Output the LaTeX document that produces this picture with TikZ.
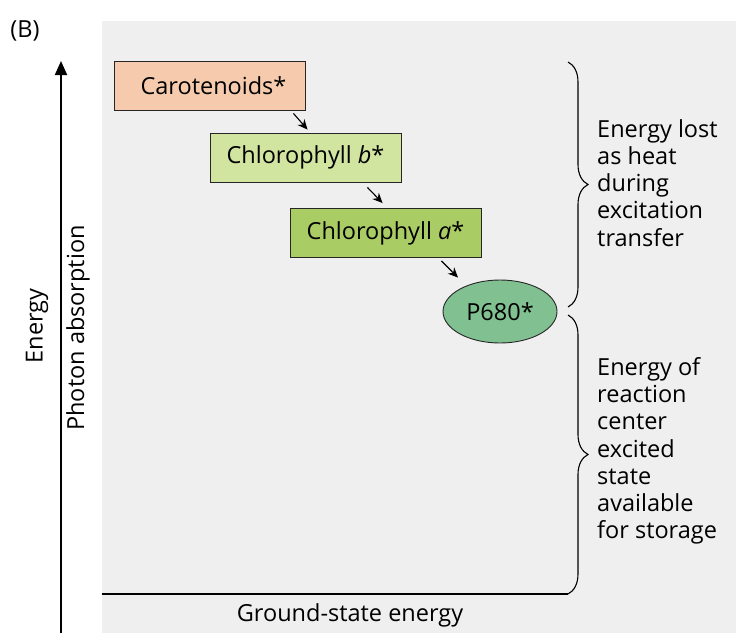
\documentclass[tikz,border=0pt]{standalone}
\usepackage{fontspec}
\setmainfont{Open Sans}
\usetikzlibrary{arrows.meta,decorations.pathreplacing,shapes.geometric}
\definecolor{bgc}{RGB}{239,239,239}
\definecolor{peach}{RGB}{245,202,173}
\definecolor{chlbc}{RGB}{209,228,160}
\definecolor{chlac}{RGB}{170,204,100}
\definecolor{pc}{RGB}{129,192,145}
\tikzset{
  pigbox/.style={draw=black!85, line width=0.9pt, minimum width=191pt, minimum height=49pt, inner sep=0pt},
  transfer/.style={line width=1.1pt, -{Stealth[length=10pt,width=9pt]}},
  bracedeco/.style={line width=1.1pt, decorate, decoration={brace, amplitude=20pt, aspect=0.5}},
  sidetext/.style={anchor=north west, inner sep=0pt, align=left},
  lbl/.style={inner sep=0pt}
}
\begin{document}
\begin{tikzpicture}[x=1pt,y=-1pt,font=\fontsize{23.5}{27.3}\selectfont]
\useasboundingbox (0,0) rectangle (746,642);
\fill[bgc] (101.5,21) rectangle (736,633);
\node[lbl] (B) at (25,31) {(B)};
% axis
\coordinate (axbot) at (61,633);
\coordinate (axtop) at (61,61);
\draw[line width=2pt, -{Triangle[length=14pt,width=12pt]}] (axbot) -- (axtop);
\node[lbl, rotate=90] (energy) at (37,326) {Energy};
\node[lbl, rotate=90] (photon) at (78,328) {Photon absorption};
% pigments
\node[pigbox, fill=peach] (car) at (209.5,85.5) {\hspace*{8pt}Carotenoids*};
\node[pigbox, fill=chlbc] (chlb) at (305.5,157.5) {Chlorophyll \textit{b}*};
\node[pigbox, fill=chlac] (chla) at (385.5,233) {Chlorophyll \textit{a}*};
\node[ellipse, draw=black!85, line width=0.9pt, fill=pc, minimum width=114pt, minimum height=63pt, inner sep=0pt] (p680) at (500,311.5) {P680*};
% transfer arrows
\draw[transfer] ([shift={(-12,3)}]car.south east) -- ([shift={(98,-3)}]chlb.north west);
\draw[transfer] ([shift={(-34,5)}]chlb.south east) -- ([shift={(93,-5)}]chla.north west);
\draw[transfer] ([shift={(-40,3)}]chla.south east) -- ([shift={(-42,-2)}]p680.north);
% ground line and braces
\coordinate (gl) at (101.5,594);
\coordinate (gr) at (568,594);
\coordinate (ub1) at (568,62);
\coordinate (ub2) at (568,307);
\coordinate (lb1) at (568,315);
\draw[line width=1.1pt] (gl) -- (gr);
\draw[bracedeco] (ub1) -- (ub2);
\draw[bracedeco] (lb1) -- (gr);
\node[sidetext] (lost) at (597,119) {Energy lost\\as heat\\during\\excitation\\transfer};
\node[sidetext] (avail) at (597,357) {Energy of\\reaction\\center\\excited\\state\\available\\for storage};
\node[lbl, anchor=base] (ground) at (350,621) {Ground-state energy};
\end{tikzpicture}
\end{document}
